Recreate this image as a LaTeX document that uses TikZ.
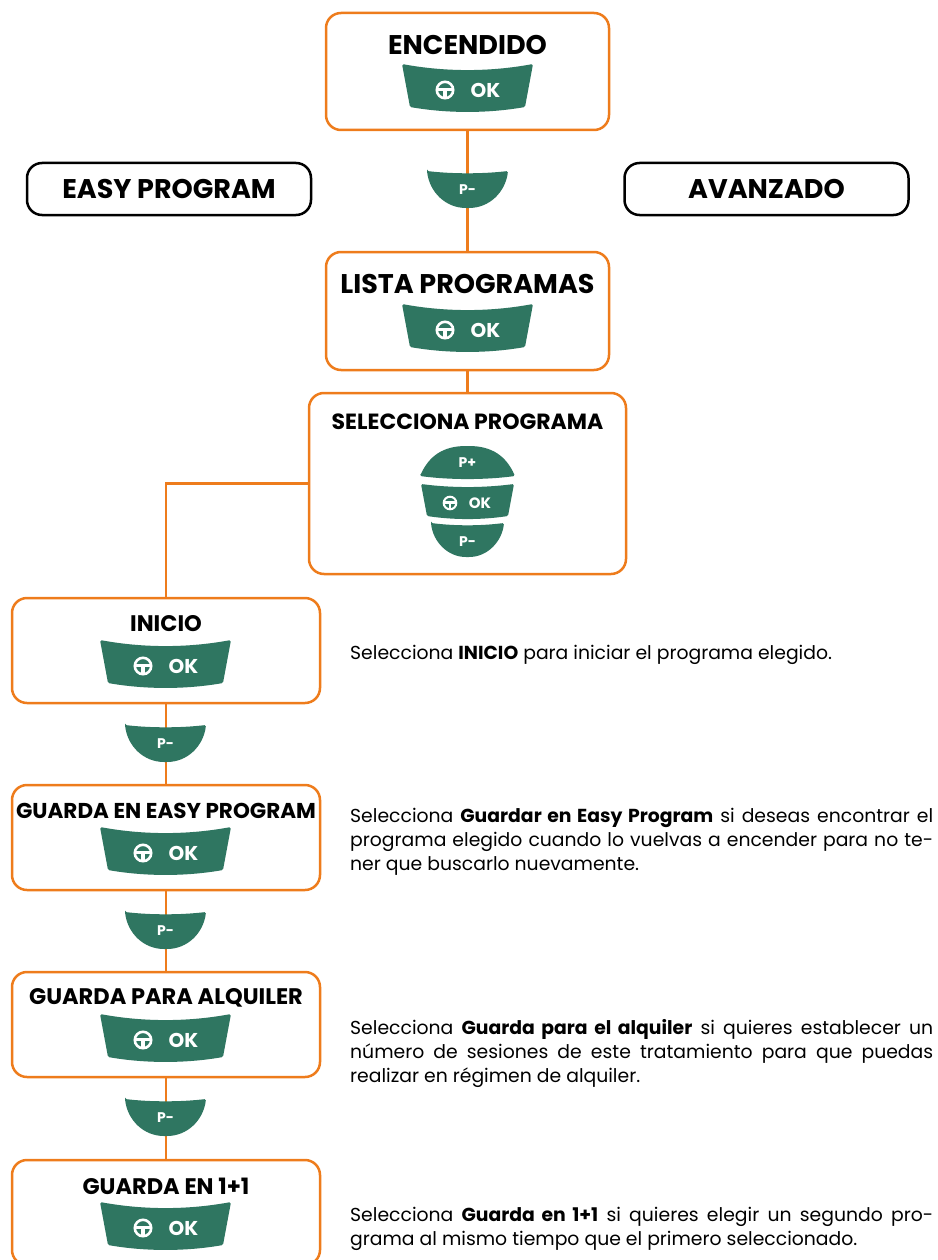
\documentclass[tikz,border=0pt]{standalone}
\usepackage{fontspec}
\setmainfont{Poppins}
\definecolor{naranja}{RGB}{238,124,28}
\definecolor{verde}{RGB}{47,118,97}

\begin{document}
\begin{tikzpicture}[x=1pt,y=-1pt,
  caja/.style={draw=naranja, line width=2.5pt, rounded corners=15pt, fill=white, inner sep=0pt},
  modo/.style={draw=black, line width=2.5pt, rounded corners=15pt, inner sep=0pt, minimum width=284pt, minimum height=52pt, font=\fontsize{27}{30}\selectfont\bfseries},
  titulo/.style={inner sep=0pt, font=\fontsize{27}{30}\selectfont\bfseries},
  titulob/.style={inner sep=0pt, font=\fontsize{22.5}{26}\selectfont\bfseries},
  linea/.style={draw=naranja, line width=2.5pt},
  tecla/.style={fill=verde, rounded corners=1.5pt},
  rotulo/.style={text=white, inner sep=0pt, font=\fontsize{20}{22}\selectfont\bfseries},
  rotulop/.style={text=white, inner sep=0pt, font=\fontsize{14}{15}\selectfont\bfseries},
  rotulos/.style={text=white, inner sep=0pt, font=\fontsize{15}{16}\selectfont\bfseries},
  texto/.style={text width=583pt, align=justify, anchor=west, inner sep=0pt, font=\fontsize{18.8}{24}\selectfont}]
\useasboundingbox (0,0) rectangle (937,1260);
\clip (0,0) rectangle (937,1260);

% cajas
\node[caja, minimum width=283pt, minimum height=117pt] (encendido) at (467.5,71.5) {};
\node[caja, minimum width=283pt, minimum height=118pt] (lista) at (467.5,311) {};
\node[caja, minimum width=317pt, minimum height=181pt] (selecciona) at (467.5,483.5) {};
\node[caja, minimum width=308pt, minimum height=105pt] (inicio) at (166,650.5) {};
\node[caja, minimum width=308pt, minimum height=105pt] (guardaeasy) at (166,837.5) {};
\node[caja, minimum width=308pt, minimum height=105pt] (alquiler) at (166,1024.5) {};
\node[caja, minimum width=308pt, minimum height=105pt] (unomasuno) at (166,1212.5) {};

\node[modo] (easy) at (169,189) {EASY PROGRAM};
\node[modo] (avanzado) at (766.5,189) {AVANZADO};

% conexiones
\draw[linea] (encendido) -- (lista);
\draw[linea] (lista) -- (selecciona);
\draw[linea] (selecciona.west) -| (inicio.north);
\draw[linea] (inicio) -- (guardaeasy);
\draw[linea] (guardaeasy) -- (alquiler);
\draw[linea] (alquiler) -- (unomasuno);

% titulos
\node[titulo] (tencendido) at (467.5,45) {ENCENDIDO};
\node[titulo] (tlista) at (467.5,284) {LISTA PROGRAMAS};
\node[titulob, font=\fontsize{22}{26}\selectfont\bfseries] (tselecciona) at (467.5,422) {SELECCIONA PROGRAMA};
\node[titulob] (tinicio) at (166,624) {INICIO};
\node[titulob, font=\fontsize{21.5}{26}\selectfont\bfseries] (tguardaeasy) at (166,811) {GUARDA EN EASY PROGRAM};
\node[titulob] (talquiler) at (166,998) {GUARDA PARA ALQUILER};
\node[titulob] (tunomasuno) at (166,1186) {GUARDA EN 1+1};

% teclas OK
\foreach \bx/\by [count=\i] in {467.5/64, 467.5/304, 165.5/640, 165.5/827, 165.5/1014, 165.5/1202}{
  \fill[tecla, shift={(\bx,\by)}] (-65.5,0) .. controls (-22,8) and (22,8) .. (65.5,0) -- (57.5,43) .. controls (20,49.5) and (-20,49.5) .. (-57.5,43) -- cycle;
  \draw[white, line width=2.6pt, shift={(\bx-22.5,\by+26)}] (0,0) circle (8.2pt);
  \draw[white, line width=3.2pt, shift={(\bx-22.5,\by+26)}] (-8,-0.5) -- (8,-0.5) (0,-0.5) -- (0,8);
  \node[rotulo] (ok\i) at (\bx+18,\by+26) {OK};
}

% teclas P-
\foreach \bx/\by [count=\i] in {467.5/171, 165.5/725, 165.5/912, 165.5/1099}{
  \fill[tecla, shift={(\bx,\by)}] (-40.5,0) .. controls (-15,3) and (15,3) .. (40.5,0) .. controls (38,21) and (22,37) .. (0,37) .. controls (-22,37) and (-38,21) .. (-40.5,0) -- cycle;
  \node[rotulop] (pmenos\i) at (\bx,\by+19) {P-};
}

% botonera de seleccion
\fill[tecla] (420,476) .. controls (450,480) and (485,480) .. (515,476) .. controls (506,456) and (492,446) .. (467.5,446) .. controls (443,446) and (429,456) .. (420,476) -- cycle;
\fill[tecla] (421,484) .. controls (452,488) and (483,488) .. (514,484) -- (508,516) .. controls (481,520) and (454,520) .. (427,516) -- cycle;
\fill[tecla] (431,523) .. controls (455,526) and (480,526) .. (504,523) .. controls (502,541) and (488,557) .. (467.5,557) .. controls (447,557) and (433,541) .. (431,523) -- cycle;
\node[rotulop] (pmas) at (467.5,462.5) {P+};
\draw[white, line width=2pt] (450,503) circle (6.3pt);
\draw[white, line width=2.5pt] (444,502.6) -- (456,502.6) (450,502.6) -- (450,509);
\node[rotulos] (oksel) at (480,503) {OK};
\node[rotulop] (pmenossel) at (467.5,542) {P-};

% textos
\node[texto] (xinicio) at (350,655) {Selecciona \textbf{INICIO} para iniciar el programa elegido.};
\node[texto] (xguardaeasy) at (350,842) {Selecciona \textbf{Guardar en Easy Program} si deseas encontrar el\linebreak programa elegido cuando lo vuelvas a encender para no te-\linebreak ner que buscarlo nuevamente.};
\node[texto] (xalquiler) at (350,1053) {Selecciona \textbf{Guarda para el alquiler} si quieres establecer un\linebreak número de sesiones de este tratamiento para que puedas\linebreak realizar en régimen de alquiler.};
\node[texto] (xunomasuno) at (350,1229) {Selecciona \textbf{Guarda en 1+1} si quieres elegir un segundo pro-\linebreak grama al mismo tiempo que el primero seleccionado.};
\end{tikzpicture}
\end{document}
